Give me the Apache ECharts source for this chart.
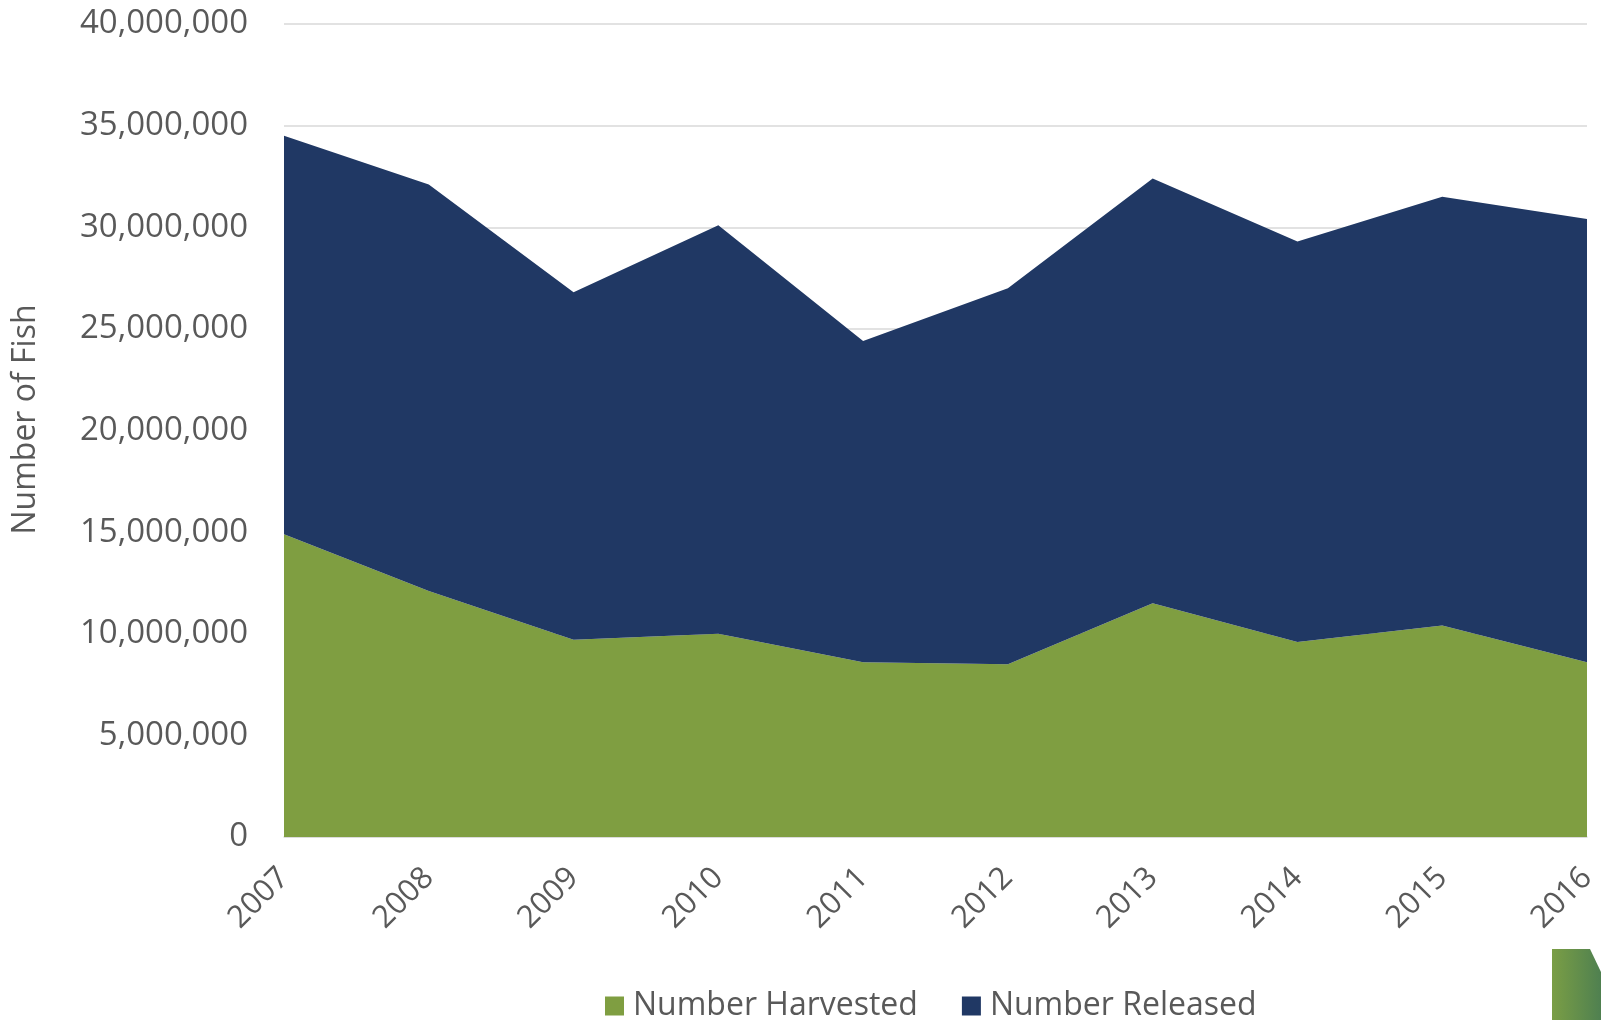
<!DOCTYPE html>
<html>
<head>
<meta charset="utf-8">
<script src="https://cdn.jsdelivr.net/npm/echarts@6/dist/echarts.min.js"></script>
<style>
  html, body { margin: 0; padding: 0; background: #fff; }
  #chart { width: 1601px; height: 1020px; }
</style>
</head>
<body>
<div id="chart"></div>
<script>
// data
const years = ['2007', '2008', '2009', '2010', '2011', '2012', '2013', '2014', '2015', '2016'];
const harvested = [14900000, 12100000, 9700000, 10000000, 8600000, 8500000, 11500000, 9600000, 10400000, 8600000];
const released = [19600000, 20000000, 17100000, 20100000, 15800000, 18500000, 20900000, 19700000, 21100000, 21800000];

const textColor = '#595959';
const fontFamily = 'Open Sans';

const chart = echarts.init(document.getElementById('chart'));

const option = {
  animation: false,
  textStyle: { fontFamily: fontFamily },
  grid: { left: 284, right: 14, top: 24, bottom: 183 },
  legend: {
    top: 985,
    left: 600,
    itemWidth: 19,
    itemHeight: 19,
    itemGap: 44,
    icon: 'rect',
    textStyle: { fontSize: 32, color: textColor, fontFamily: fontFamily, padding: [0, 0, 0, 4] },
    data: ['Number Harvested', 'Number Released']
  },
  xAxis: {
    type: 'category',
    data: years,
    boundaryGap: false,
    axisLine: { lineStyle: { color: '#d9d9d9', width: 1.5 } },
    axisTick: { show: false },
    axisLabel: { rotate: 45, fontSize: 31, color: textColor, margin: 36 }
  },
  yAxis: {
    type: 'value',
    min: 0,
    max: 40000000,
    interval: 5000000,
    name: 'Number of Fish',
    nameLocation: 'middle',
    nameGap: 242,
    nameTextStyle: { fontSize: 32, color: textColor, padding: [0, 0, 0, 22] },
    axisLine: { show: false },
    axisTick: { show: false },
    splitLine: { lineStyle: { color: '#d9d9d9', width: 1.5 } },
    axisLabel: {
      fontSize: 33,
      color: textColor,
      margin: 36,
      formatter: function (v) { return v.toLocaleString('en-US'); }
    }
  },
  series: [
    {
      name: 'Number Harvested',
      type: 'line',
      stack: 'total',
      data: harvested,
      symbol: 'none',
      lineStyle: { width: 0 },
      itemStyle: { color: '#7f9e41' },
      areaStyle: { color: '#7f9e41', opacity: 1 }
    },
    {
      name: 'Number Released',
      type: 'line',
      stack: 'total',
      data: released,
      symbol: 'none',
      lineStyle: { width: 0 },
      itemStyle: { color: '#203864' },
      areaStyle: { color: '#203864', opacity: 1 }
    }
  ],
  // bit of the logo peeking in at the bottom right corner
  graphic: [
    {
      type: 'polygon',
      shape: { points: [[1552, 949], [1590, 949], [1601, 972], [1601, 1020], [1552, 1020]] },
      style: {
        fill: new echarts.graphic.LinearGradient(0, 0, 1, 0, [
          { offset: 0, color: '#7a9e45' },
          { offset: 1, color: '#4f8050' }
        ])
      }
    }
  ]
};

chart.setOption(option);
</script>
</body>
</html>
